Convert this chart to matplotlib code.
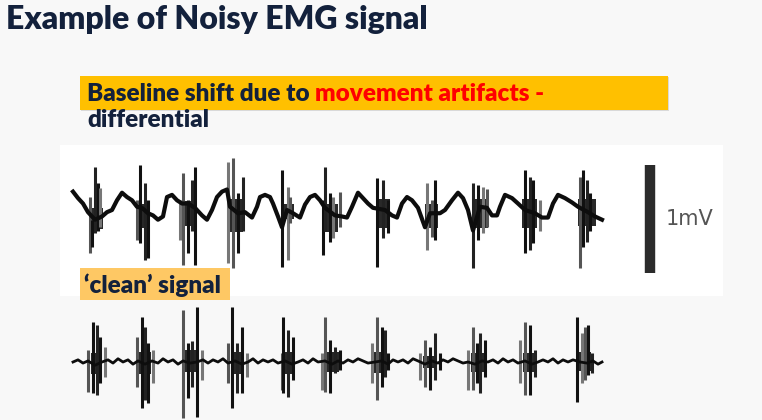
import matplotlib
matplotlib.use("Agg")
import matplotlib.pyplot as plt
from matplotlib.patches import Rectangle

# ── data (time in s, amplitude in mV) ───────────────────────────────────

# noisy trace: wandering baseline
noisy_t = [0.03, 0.08, 0.13, 0.18, 0.25, 0.32, 0.37, 0.42, 0.47, 0.52, 0.57, 0.62,
           0.67, 0.72, 0.78, 0.83, 0.88, 0.93, 0.97, 1.02, 1.07, 1.12, 1.18, 1.25,
           1.32, 1.37, 1.42, 1.47, 1.52, 1.57, 1.60, 1.68, 1.75, 1.82, 1.87, 1.90,
           1.95, 2.00, 2.03, 2.08, 2.12, 2.17, 2.23, 2.30, 2.35, 2.40, 2.45, 2.50,
           2.55, 2.65, 2.72, 2.77, 2.82, 2.88, 2.93, 2.98, 3.03, 3.15, 3.22, 3.27,
           3.32, 3.37, 3.42, 3.48, 3.55, 3.60, 3.70, 3.75, 3.82, 3.88, 3.93, 3.98,
           4.03, 4.10, 4.17, 4.22, 4.27, 4.30, 4.35, 4.42, 4.48, 4.55, 4.65, 4.72,
           4.78, 4.83, 4.88, 4.95, 5.02, 5.08, 5.18, 5.25, 5.32]
noisy_v = [0.17, 0.11, 0.06, -0.02, -0.09, -0.06, -0.02, 0.00, 0.09, 0.16, 0.12, 0.09,
           0.03, 0.02, -0.03, -0.05, -0.09, -0.06, 0.12, 0.14, 0.09, 0.06, 0.06, 0.02,
           -0.05, -0.09, 0.00, 0.12, 0.17, 0.19, 0.03, -0.03, -0.02, -0.07, 0.03, 0.12,
           0.14, 0.12, 0.06, -0.06, -0.16, 0.00, -0.03, -0.07, 0.05, 0.12, 0.14, 0.09,
           0.02, -0.05, -0.06, -0.07, 0.03, 0.16, 0.11, 0.06, 0.02, 0.00, -0.05, -0.07,
           0.06, 0.12, 0.09, 0.02, -0.16, -0.03, -0.03, 0.00, 0.09, 0.16, 0.11, 0.00,
           -0.19, 0.03, 0.02, -0.05, -0.05, 0.03, 0.14, 0.11, 0.06, 0.00, -0.03, -0.07,
           -0.07, 0.06, 0.14, 0.11, 0.07, 0.03, -0.02, -0.06, -0.09]

# noisy trace: spikes (time, top, bottom)
noisy_spike_t = [0.20, 0.22, 0.25, 0.28, 0.30, 0.67, 0.70, 0.75, 0.78,
                 1.10, 1.13, 1.18, 1.22, 1.25, 1.58, 1.63, 1.68, 1.73,
                 2.12, 2.18, 2.20, 2.53, 2.55, 2.60, 2.63, 2.70,
                 3.07, 3.13, 3.18, 3.57, 3.62, 3.65,
                 4.03, 4.08, 4.13, 4.17, 4.55, 4.60, 4.63, 4.70,
                 5.10, 5.13, 5.17, 5.20]
noisy_spike_hi = [0.12, -0.09, 0.40, 0.25, 0.20, 0.09, 0.42, 0.25, 0.09,
                  0.09, 0.34, 0.09, 0.28, 0.40, 0.44, 0.48, 0.16, 0.31,
                  0.37, 0.21, 0.12, 0.09, 0.40, 0.16, 0.12, 0.17,
                  0.30, 0.28, 0.09, 0.25, 0.09, 0.28,
                  0.25, 0.23, 0.21, 0.19, 0.37, 0.31, 0.28, 0.09,
                  0.31, 0.37, 0.28, 0.16]
noisy_spike_lo = [-0.40, -0.34, -0.21, -0.19, -0.16, -0.28, -0.31, -0.46, -0.44,
                  -0.28, -0.51, -0.40, -0.19, -0.51, -0.49, -0.54, -0.40, -0.19,
                  -0.53, -0.46, -0.12, -0.42, -0.19, -0.30, -0.26, -0.16,
                  -0.53, -0.26, -0.21, -0.37, -0.25, -0.28,
                  -0.54, -0.28, -0.21, -0.16, -0.40, -0.37, -0.31, -0.19,
                  -0.54, -0.34, -0.30, -0.19]

# noisy trace: dense burst cores (start, end, top, bottom)
noisy_core_t0 = [0.19, 0.68, 1.13, 1.60, 2.13, 2.52, 3.06, 3.55, 4.02, 4.52, 5.08]
noisy_core_t1 = [0.33, 0.80, 1.27, 1.73, 2.24, 2.68, 3.20, 3.68, 4.18, 4.67, 5.26]
noisy_core_hi = [0.02, 0.06, 0.08, 0.10, 0.06, 0.06, 0.10, 0.06, 0.10, 0.10, 0.10]
noisy_core_lo = [-0.18, -0.17, -0.15, -0.20, -0.08, -0.20, -0.17, -0.17, -0.17, -0.17, -0.15]

# clean trace: flat baseline with small ripple
clean_t = [0.03, 0.08, 0.13, 0.18, 0.25, 0.32, 0.38, 0.43, 0.48, 0.53, 0.58, 0.63,
           0.68, 0.75, 0.82, 0.88, 0.93, 0.98, 1.03, 1.08, 1.13, 1.20, 1.27, 1.33,
           1.38, 1.43, 1.48, 1.53, 1.58, 1.65, 1.72, 1.78, 1.83, 1.88, 1.93, 1.98,
           2.03, 2.08, 2.15, 2.22, 2.28, 2.33, 2.38, 2.43, 2.48, 2.55, 2.62, 2.68,
           2.73, 2.78, 2.83, 2.88, 2.93, 2.98, 3.05, 3.12, 3.18, 3.23, 3.28, 3.33,
           3.38, 3.43, 3.48, 3.55, 3.62, 3.68, 3.73, 3.78, 3.83, 3.88, 3.93, 3.98,
           4.05, 4.12, 4.18, 4.23, 4.28, 4.33, 4.38, 4.43, 4.48, 4.55, 4.62, 4.68,
           4.73, 4.78, 4.83, 4.88, 4.93, 4.98, 5.03, 5.10, 5.17, 5.23, 5.28, 5.32]
clean_v = [0.00, 0.02, -0.01, 0.01, -0.03, 0.00, 0.02, -0.01, 0.03, 0.00, 0.02, -0.02,
           0.01, -0.02, 0.01, -0.01, 0.03, 0.00, 0.02, -0.02, 0.01, -0.01, 0.00, 0.02,
           -0.01, 0.02, 0.00, 0.03, -0.01, 0.01, -0.02, 0.00, 0.03, -0.01, 0.02, 0.00,
           0.02, -0.01, 0.01, -0.02, 0.00, 0.02, -0.01, 0.03, 0.00, 0.01, -0.02, 0.01,
           -0.01, 0.02, 0.00, 0.03, 0.01, -0.01, 0.00, 0.01, -0.02, 0.02, 0.00, 0.02,
           -0.01, 0.03, 0.01, -0.02, 0.01, -0.01, 0.02, 0.00, 0.03, 0.01, -0.01, 0.00,
           -0.02, 0.01, 0.00, 0.02, -0.01, 0.03, 0.00, 0.02, -0.01, 0.01, -0.02, 0.00,
           0.02, 0.00, 0.03, -0.01, 0.02, 0.00, 0.02, 0.00, -0.01, 0.01, -0.02, 0.00]

clean_spike_t = [0.18, 0.23, 0.27, 0.30, 0.35, 0.67, 0.72, 0.75, 0.78, 0.83,
                 1.13, 1.18, 1.22, 1.27, 1.32, 1.58, 1.62, 1.67, 1.72, 1.77,
                 2.12, 2.13, 2.18, 2.23, 2.52, 2.55, 2.60, 2.65, 2.70,
                 3.02, 3.07, 3.12, 3.15, 3.18, 3.50, 3.55, 3.60, 3.65, 3.70,
                 3.98, 4.03, 4.07, 4.10, 4.15, 4.50, 4.55, 4.60, 4.65,
                 5.07, 5.12, 5.15, 5.18, 5.22]
clean_spike_hi = [0.11, 0.37, 0.34, 0.23, 0.14, 0.23, 0.42, 0.32, 0.18, 0.11,
                  0.48, 0.18, 0.19, 0.51, 0.11, 0.18, 0.51, 0.18, 0.32, 0.08,
                  0.08, 0.42, 0.30, 0.23, 0.08, 0.42, 0.20, 0.14, 0.11,
                  0.18, 0.42, 0.32, 0.30, 0.08, 0.08, 0.20, 0.14, 0.27, 0.08,
                  0.11, 0.32, 0.18, 0.27, 0.20, 0.20, 0.37, 0.34, 0.11,
                  0.42, 0.27, 0.32, 0.34, 0.08]
clean_spike_lo = [-0.28, -0.29, -0.31, -0.19, -0.14, -0.23, -0.43, -0.35, -0.38, -0.19,
                  -0.52, -0.33, -0.23, -0.51, -0.17, -0.19, -0.43, -0.29, -0.29, -0.14,
                  -0.26, -0.29, -0.32, -0.17, -0.26, -0.28, -0.29, -0.10, -0.07,
                  -0.19, -0.35, -0.23, -0.14, -0.07, -0.17, -0.23, -0.26, -0.17, -0.07,
                  -0.26, -0.26, -0.19, -0.29, -0.14, -0.19, -0.31, -0.31, -0.14,
                  -0.37, -0.19, -0.17, -0.12, -0.10]

clean_core_t0 = [0.21, 0.69, 1.14, 1.61, 2.13, 2.56, 3.04, 3.53, 4.01, 4.53, 5.08]
clean_core_t1 = [0.32, 0.81, 1.27, 1.71, 2.24, 2.69, 3.16, 3.66, 4.14, 4.64, 5.21]
clean_core_hi = [0.08, 0.09, 0.11, 0.09, 0.09, 0.09, 0.09, 0.06, 0.08, 0.08, 0.09]
clean_core_lo = [-0.11, -0.11, -0.09, -0.11, -0.11, -0.09, -0.10, -0.06, -0.09, -0.09, -0.08]

scale_bar_t = 5.80
scale_bar_mv = 1.0
scale_bar_lo = -0.58

# ── layout (pixels of the 762x420 slide) ────────────────────────────────
W, H = 762, 420
NAVY = "#13213c"
SHADES = ["#555555", "#111111", "#222222", "#111111", "#777777"]


def px_rect(x, y, w, h, **kw):
    """rectangle from a pixel box with top-left origin"""
    return Rectangle((x / W, 1 - (y + h) / H), w / W, h / H,
                     transform=fig.transFigure, edgecolor="none", **kw)


def trace_axes(y_center):
    # 100 px per second, 108 px per mV
    h = 129.6
    ax = fig.add_axes([70 / W, 1 - (y_center + h / 2) / H, 630 / W, h / H])
    ax.set_xlim(0, 6.3)
    ax.set_ylim(-0.6, 0.6)
    ax.axis("off")
    ax.patch.set_alpha(0)
    return ax


def draw_trace(ax, t, v, sp_t, sp_hi, sp_lo, c_t0, c_t1, c_hi, c_lo, lw):
    for a, b, hi, lo in zip(c_t0, c_t1, c_hi, c_lo):
        ax.bar(a, hi - lo, width=b - a, bottom=lo, align="edge",
               color="#111111", alpha=0.9, linewidth=0, zorder=2)
    cols = [SHADES[i % len(SHADES)] for i in range(len(sp_t))]
    ax.vlines(sp_t, sp_lo, sp_hi, colors=cols, linewidth=2.2, zorder=3)
    ax.plot(t, v, color="#0d0d0d", linewidth=lw, solid_joinstyle="round", zorder=4)


fig = plt.figure(figsize=(W / 100, H / 100), dpi=100, facecolor="#f8f8f8")

# white panel behind the noisy trace
fig.add_artist(px_rect(60, 145, 663, 151, facecolor="white", zorder=0))

fig.text(6 / W, 1 - 20 / H, "Example of Noisy EMG signal", fontsize=23,
         fontweight="heavy", color=NAVY, family="Lato", va="center")

# yellow heading box
fig.add_artist(px_rect(81, 77, 588, 34, facecolor="#d9d9d9", zorder=1))
fig.add_artist(px_rect(80, 76, 588, 34, facecolor="#ffc000", zorder=1))
HEAD = dict(fontsize=17.5, fontweight="heavy", family="Lato", va="center", zorder=3)
t1 = fig.text(87 / W, 1 - 94 / H, "Baseline shift due to ", color=NAVY, **HEAD)
fig.text(87 / W, 1 - 120 / H, "differential", color=NAVY, **HEAD)

ax_top = trace_axes(210)
draw_trace(ax_top, noisy_t, noisy_v, noisy_spike_t, noisy_spike_hi, noisy_spike_lo,
           noisy_core_t0, noisy_core_t1, noisy_core_hi, noisy_core_lo, lw=3.0)
ax_top.vlines([scale_bar_t], [scale_bar_lo], [scale_bar_lo + scale_bar_mv],
              colors="#2b2b2b", linewidth=7.5)
ax_top.annotate("1mV", xy=(scale_bar_t, scale_bar_lo + scale_bar_mv / 2),
                xytext=(11, 0), textcoords="offset points", va="center",
                fontsize=15, color="#555555", family="DejaVu Sans")

ax_bot = trace_axes(362)
draw_trace(ax_bot, clean_t, clean_v, clean_spike_t, clean_spike_hi, clean_spike_lo,
           clean_core_t0, clean_core_t1, clean_core_hi, clean_core_lo, lw=2.0)

# 'clean' signal label
fig.add_artist(px_rect(80, 268, 150, 32, facecolor="#fec864", zorder=5))
fig.text(84 / W, 1 - 285 / H, "\u2018clean\u2019 signal", color=NAVY,
         **{**HEAD, "zorder": 6})

# red part of the heading goes right after the navy part
fig.canvas.draw()
bb = t1.get_window_extent()
fig.text(bb.x1 / W, 1 - 94 / H, "movement artifacts -", color="#ff0000", **HEAD)

fig.savefig("out.png", dpi=100, facecolor=fig.get_facecolor())
